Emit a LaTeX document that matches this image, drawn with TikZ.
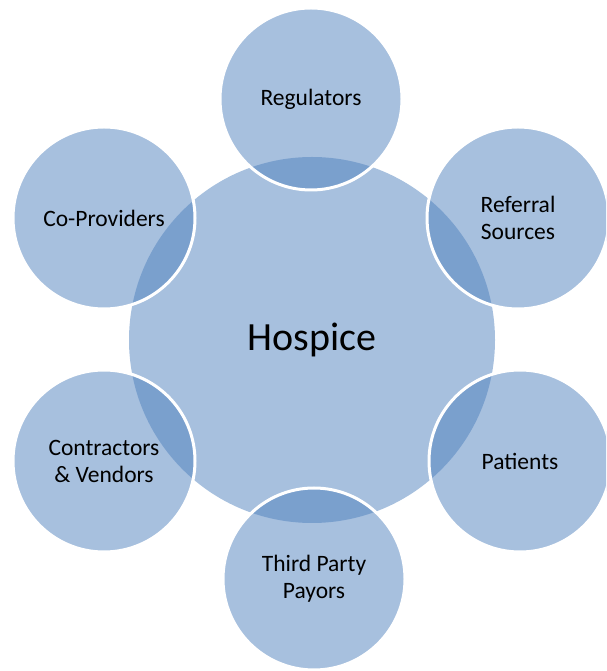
\documentclass[tikz,border=0pt]{standalone}
\usepackage{fontspec}
\setmainfont{Carlito}
\definecolor{hubblue}{RGB}{79,129,189}

\begin{document}
\begin{tikzpicture}[x=1pt, y=1pt,
    hub/.style = {circle, fill=hubblue, fill opacity=0.5, text opacity=1,
        minimum size=366pt, inner sep=0pt, font=\fontsize{40}{48}\selectfont},
    party/.style = {circle, draw=white, line width=3pt, fill=hubblue,
        fill opacity=0.5, draw opacity=1, text opacity=1, minimum size=182pt,
        inner sep=0pt, align=center, font=\fontsize{23.5}{27}\selectfont}]
\useasboundingbox (0,0) rectangle (606,671);
\clip (0,0) rectangle (606,671);

    \node[hub] (hospice) at (312,331) {Hospice};

    \node[party] (regulators) at (311,572) {Regulators};
    \node[party] (referral) at (518,453) {Referral\\Sources};
    \node[party] (patients) at (520,210) {Patients};
    \node[party] (payors) at (314,92) {Third Party\\Payors};
    \node[party] (vendors) at (104,210) {Contractors\\\& Vendors};
    \node[party] (coproviders) at (104,453) {Co-Providers};

\end{tikzpicture}
\end{document}
